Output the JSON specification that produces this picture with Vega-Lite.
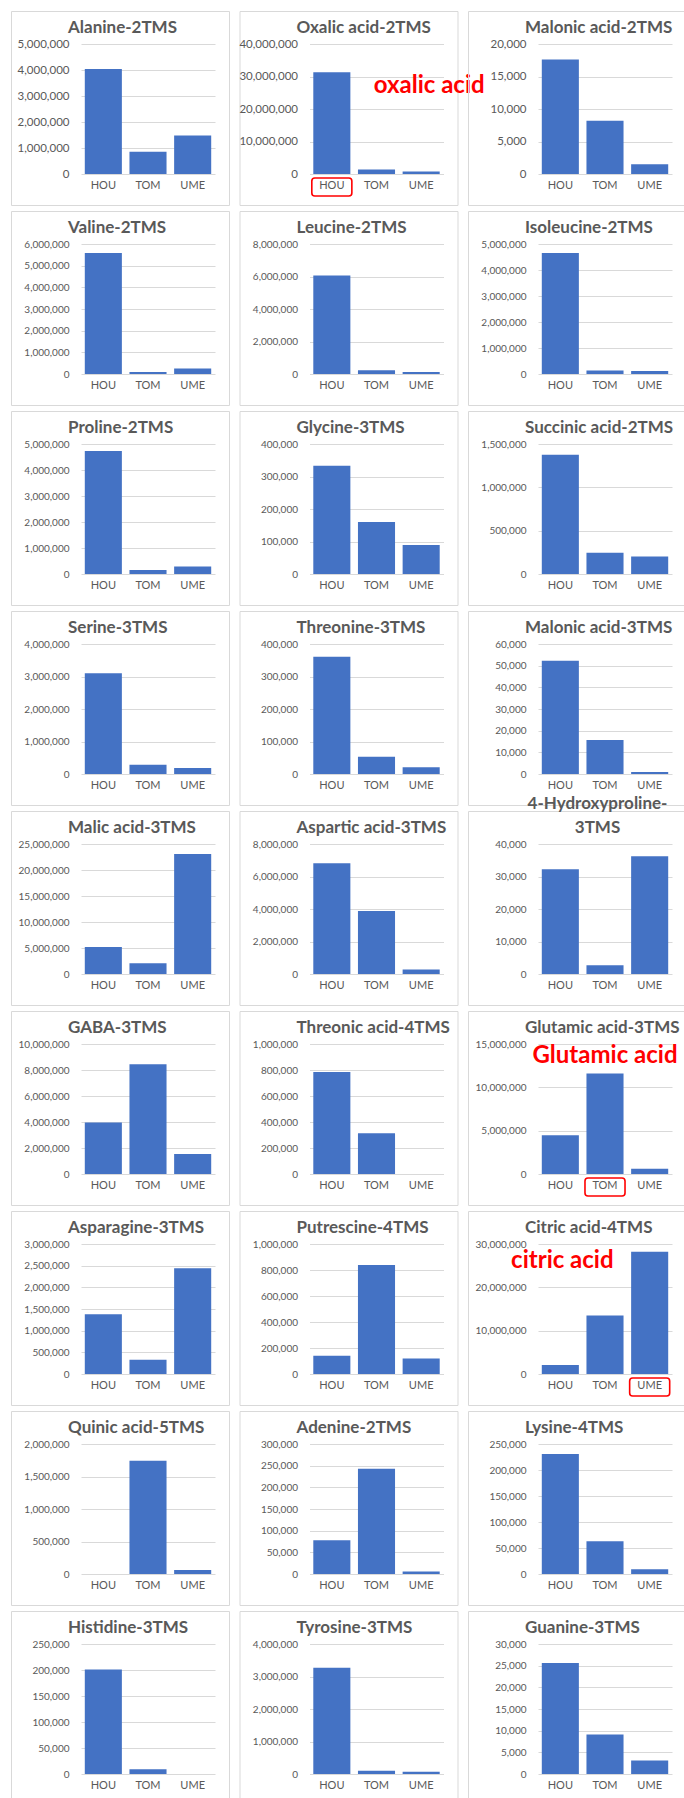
{
  "$schema": "https://vega.github.io/schema/vega-lite/v6.json",
  "padding": {"left": 10, "top": 10, "right": 0, "bottom": 0},
  "background": "white",
  "datasets": {
    "m": [
      {"compound": "Alanine-2TMS", "site": "HOU", "value": 4040000},
      {"compound": "Alanine-2TMS", "site": "TOM", "value": 860000},
      {"compound": "Alanine-2TMS", "site": "UME", "value": 1480000},
      {"compound": "Oxalic acid-2TMS", "site": "HOU", "value": 31300000},
      {"compound": "Oxalic acid-2TMS", "site": "TOM", "value": 1350000},
      {"compound": "Oxalic acid-2TMS", "site": "UME", "value": 740000},
      {"compound": "Malonic acid-2TMS", "site": "HOU", "value": 17600},
      {"compound": "Malonic acid-2TMS", "site": "TOM", "value": 8200},
      {"compound": "Malonic acid-2TMS", "site": "UME", "value": 1490},
      {"compound": "Valine-2TMS", "site": "HOU", "value": 5580000},
      {"compound": "Valine-2TMS", "site": "TOM", "value": 95000},
      {"compound": "Valine-2TMS", "site": "UME", "value": 250000},
      {"compound": "Leucine-2TMS", "site": "HOU", "value": 6060000},
      {"compound": "Leucine-2TMS", "site": "TOM", "value": 230000},
      {"compound": "Leucine-2TMS", "site": "UME", "value": 120000},
      {"compound": "Isoleucine-2TMS", "site": "HOU", "value": 4650000},
      {"compound": "Isoleucine-2TMS", "site": "TOM", "value": 130000},
      {"compound": "Isoleucine-2TMS", "site": "UME", "value": 120000},
      {"compound": "Proline-2TMS", "site": "HOU", "value": 4730000},
      {"compound": "Proline-2TMS", "site": "TOM", "value": 155000},
      {"compound": "Proline-2TMS", "site": "UME", "value": 290000},
      {"compound": "Glycine-3TMS", "site": "HOU", "value": 333000},
      {"compound": "Glycine-3TMS", "site": "TOM", "value": 160000},
      {"compound": "Glycine-3TMS", "site": "UME", "value": 89000},
      {"compound": "Succinic acid-2TMS", "site": "HOU", "value": 1377000},
      {"compound": "Succinic acid-2TMS", "site": "TOM", "value": 244000},
      {"compound": "Succinic acid-2TMS", "site": "UME", "value": 202000},
      {"compound": "Serine-3TMS", "site": "HOU", "value": 3100000},
      {"compound": "Serine-3TMS", "site": "TOM", "value": 285000},
      {"compound": "Serine-3TMS", "site": "UME", "value": 184000},
      {"compound": "Threonine-3TMS", "site": "HOU", "value": 361000},
      {"compound": "Threonine-3TMS", "site": "TOM", "value": 53000},
      {"compound": "Threonine-3TMS", "site": "UME", "value": 20500},
      {"compound": "Malonic acid-3TMS", "site": "HOU", "value": 52300},
      {"compound": "Malonic acid-3TMS", "site": "TOM", "value": 15700},
      {"compound": "Malonic acid-3TMS", "site": "UME", "value": 900},
      {"compound": "Malic acid-3TMS", "site": "HOU", "value": 5170000},
      {"compound": "Malic acid-3TMS", "site": "TOM", "value": 2060000},
      {"compound": "Malic acid-3TMS", "site": "UME", "value": 23100000},
      {"compound": "Aspartic acid-3TMS", "site": "HOU", "value": 6810000},
      {"compound": "Aspartic acid-3TMS", "site": "TOM", "value": 3870000},
      {"compound": "Aspartic acid-3TMS", "site": "UME", "value": 270000},
      {"compound": "4-Hydroxyproline-3TMS", "site": "HOU", "value": 32200},
      {"compound": "4-Hydroxyproline-3TMS", "site": "TOM", "value": 2670},
      {"compound": "4-Hydroxyproline-3TMS", "site": "UME", "value": 36200},
      {"compound": "GABA-3TMS", "site": "HOU", "value": 3970000},
      {"compound": "GABA-3TMS", "site": "TOM", "value": 8440000},
      {"compound": "GABA-3TMS", "site": "UME", "value": 1530000},
      {"compound": "Threonic acid-4TMS", "site": "HOU", "value": 785000},
      {"compound": "Threonic acid-4TMS", "site": "TOM", "value": 314000},
      {"compound": "Threonic acid-4TMS", "site": "UME", "value": 0},
      {"compound": "Glutamic acid-3TMS", "site": "HOU", "value": 4480000},
      {"compound": "Glutamic acid-3TMS", "site": "TOM", "value": 11600000},
      {"compound": "Glutamic acid-3TMS", "site": "UME", "value": 620000},
      {"compound": "Asparagine-3TMS", "site": "HOU", "value": 1380000},
      {"compound": "Asparagine-3TMS", "site": "TOM", "value": 327000},
      {"compound": "Asparagine-3TMS", "site": "UME", "value": 2440000},
      {"compound": "Putrescine-4TMS", "site": "HOU", "value": 140000},
      {"compound": "Putrescine-4TMS", "site": "TOM", "value": 839000},
      {"compound": "Putrescine-4TMS", "site": "UME", "value": 120000},
      {"compound": "Citric acid-4TMS", "site": "HOU", "value": 2100000},
      {"compound": "Citric acid-4TMS", "site": "TOM", "value": 13500000},
      {"compound": "Citric acid-4TMS", "site": "UME", "value": 28200000},
      {"compound": "Quinic acid-5TMS", "site": "HOU", "value": 0},
      {"compound": "Quinic acid-5TMS", "site": "TOM", "value": 1743000},
      {"compound": "Quinic acid-5TMS", "site": "UME", "value": 62000},
      {"compound": "Adenine-2TMS", "site": "HOU", "value": 77700},
      {"compound": "Adenine-2TMS", "site": "TOM", "value": 242800},
      {"compound": "Adenine-2TMS", "site": "UME", "value": 5600},
      {"compound": "Lysine-4TMS", "site": "HOU", "value": 231000},
      {"compound": "Lysine-4TMS", "site": "TOM", "value": 62800},
      {"compound": "Lysine-4TMS", "site": "UME", "value": 9100},
      {"compound": "Histidine-3TMS", "site": "HOU", "value": 200800},
      {"compound": "Histidine-3TMS", "site": "TOM", "value": 8900},
      {"compound": "Histidine-3TMS", "site": "UME", "value": 0},
      {"compound": "Tyrosine-3TMS", "site": "HOU", "value": 3270000},
      {"compound": "Tyrosine-3TMS", "site": "TOM", "value": 100000},
      {"compound": "Tyrosine-3TMS", "site": "UME", "value": 70000},
      {"compound": "Guanine-3TMS", "site": "HOU", "value": 25600},
      {"compound": "Guanine-3TMS", "site": "TOM", "value": 9140},
      {"compound": "Guanine-3TMS", "site": "UME", "value": 3100}
    ],
    "notes": [
      {"compound": "Oxalic acid-2TMS", "site": "HOU", "note": "oxalic acid"},
      {"compound": "Glutamic acid-3TMS", "site": "TOM", "note": "Glutamic acid"},
      {"compound": "Citric acid-4TMS", "site": "UME", "note": "citric acid"}
    ]
  },
  "data": {"name": "m"},
  "columns": 3,
  "spacing": {"row": 6, "column": 10.5},
  "bounds": "flush",
  "concat": [
    {"title": {"text": "Alanine-2TMS"}, "width": 218, "height": 194, "transform": [{"filter": {"field": "compound", "equal": "Alanine-2TMS"}}], "mark": "bar",
     "encoding": {"x": {"field": "site", "type": "nominal", "scale": {"domain": ["HOU", "TOM", "UME"], "range": [70, 204], "paddingInner": 0.17, "paddingOuter": 0.085}, "axis": {"title": null, "offset": -31}},
                  "y": {"field": "value", "type": "quantitative", "scale": {"domain": [0, 5000000], "nice": false, "range": [163, 33]}, "axis": {"title": null, "offset": -70, "format": ",.0f", "labelFontSize": 11.5, "values": [0, 1000000, 2000000, 3000000, 4000000, 5000000]}}}},
    {"title": {"text": "Oxalic acid-2TMS"}, "width": 218, "height": 194,
     "layer": [
       {"transform": [{"filter": {"field": "compound", "equal": "Oxalic acid-2TMS"}}], "mark": "bar",
        "encoding": {"x": {"field": "site", "type": "nominal", "scale": {"domain": ["HOU", "TOM", "UME"], "range": [70, 204], "paddingInner": 0.17, "paddingOuter": 0.085}, "axis": {"title": null, "offset": -31}},
                     "y": {"field": "value", "type": "quantitative", "scale": {"domain": [0, 40000000], "nice": false, "range": [163, 33]}, "axis": {"title": null, "offset": -70, "format": ",.0f", "labelFontSize": 11.5, "values": [0, 10000000, 20000000, 30000000, 40000000]}}}},
       {"data": {"name": "notes"}, "transform": [{"filter": {"field": "compound", "equal": "Oxalic acid-2TMS"}}],
        "mark": {"type": "bar", "fill": "transparent", "stroke": "#FF0000", "strokeWidth": 1.6, "cornerRadius": 3, "width": {"band": 1.08}},
        "encoding": {"x": {"field": "site", "type": "nominal"}, "y": {"datum": -1230000}, "y2": {"datum": -6770000}}},
       {"data": {"name": "notes"}, "transform": [{"filter": {"field": "compound", "equal": "Oxalic acid-2TMS"}}],
        "mark": {"type": "text", "color": "#FF0000", "font": "Lato", "fontWeight": "bold", "fontSize": 24, "baseline": "middle", "align": "center", "dx": 8},
        "encoding": {"text": {"field": "note"}, "x": {"datum": "UME"}, "y": {"datum": 27100000}}}
     ]},
    {"title": {"text": "Malonic acid-2TMS"}, "width": 218, "height": 194, "transform": [{"filter": {"field": "compound", "equal": "Malonic acid-2TMS"}}], "mark": "bar",
     "encoding": {"x": {"field": "site", "type": "nominal", "scale": {"domain": ["HOU", "TOM", "UME"], "range": [70, 204], "paddingInner": 0.17, "paddingOuter": 0.085}, "axis": {"title": null, "offset": -31}},
                  "y": {"field": "value", "type": "quantitative", "scale": {"domain": [0, 20000], "nice": false, "range": [163, 33]}, "axis": {"title": null, "offset": -70, "format": ",.0f", "labelFontSize": 11.5, "values": [0, 5000, 10000, 15000, 20000]}}}},
    {"title": {"text": "Valine-2TMS"}, "width": 218, "height": 194, "transform": [{"filter": {"field": "compound", "equal": "Valine-2TMS"}}], "mark": "bar",
     "encoding": {"x": {"field": "site", "type": "nominal", "scale": {"domain": ["HOU", "TOM", "UME"], "range": [70, 204], "paddingInner": 0.17, "paddingOuter": 0.085}, "axis": {"title": null, "offset": -31}},
                  "y": {"field": "value", "type": "quantitative", "scale": {"domain": [0, 6000000], "nice": false, "range": [163, 33]}, "axis": {"title": null, "offset": -70, "format": ",.0f", "values": [0, 1000000, 2000000, 3000000, 4000000, 5000000, 6000000]}}}},
    {"title": {"text": "Leucine-2TMS"}, "width": 218, "height": 194, "transform": [{"filter": {"field": "compound", "equal": "Leucine-2TMS"}}], "mark": "bar",
     "encoding": {"x": {"field": "site", "type": "nominal", "scale": {"domain": ["HOU", "TOM", "UME"], "range": [70, 204], "paddingInner": 0.17, "paddingOuter": 0.085}, "axis": {"title": null, "offset": -31}},
                  "y": {"field": "value", "type": "quantitative", "scale": {"domain": [0, 8000000], "nice": false, "range": [163, 33]}, "axis": {"title": null, "offset": -70, "format": ",.0f", "values": [0, 2000000, 4000000, 6000000, 8000000]}}}},
    {"title": {"text": "Isoleucine-2TMS"}, "width": 218, "height": 194, "transform": [{"filter": {"field": "compound", "equal": "Isoleucine-2TMS"}}], "mark": "bar",
     "encoding": {"x": {"field": "site", "type": "nominal", "scale": {"domain": ["HOU", "TOM", "UME"], "range": [70, 204], "paddingInner": 0.17, "paddingOuter": 0.085}, "axis": {"title": null, "offset": -31}},
                  "y": {"field": "value", "type": "quantitative", "scale": {"domain": [0, 5000000], "nice": false, "range": [163, 33]}, "axis": {"title": null, "offset": -70, "format": ",.0f", "values": [0, 1000000, 2000000, 3000000, 4000000, 5000000]}}}},
    {"title": {"text": "Proline-2TMS"}, "width": 218, "height": 194, "transform": [{"filter": {"field": "compound", "equal": "Proline-2TMS"}}], "mark": "bar",
     "encoding": {"x": {"field": "site", "type": "nominal", "scale": {"domain": ["HOU", "TOM", "UME"], "range": [70, 204], "paddingInner": 0.17, "paddingOuter": 0.085}, "axis": {"title": null, "offset": -31}},
                  "y": {"field": "value", "type": "quantitative", "scale": {"domain": [0, 5000000], "nice": false, "range": [163, 33]}, "axis": {"title": null, "offset": -70, "format": ",.0f", "values": [0, 1000000, 2000000, 3000000, 4000000, 5000000]}}}},
    {"title": {"text": "Glycine-3TMS"}, "width": 218, "height": 194, "transform": [{"filter": {"field": "compound", "equal": "Glycine-3TMS"}}], "mark": "bar",
     "encoding": {"x": {"field": "site", "type": "nominal", "scale": {"domain": ["HOU", "TOM", "UME"], "range": [70, 204], "paddingInner": 0.17, "paddingOuter": 0.085}, "axis": {"title": null, "offset": -31}},
                  "y": {"field": "value", "type": "quantitative", "scale": {"domain": [0, 400000], "nice": false, "range": [163, 33]}, "axis": {"title": null, "offset": -70, "format": ",.0f", "values": [0, 100000, 200000, 300000, 400000]}}}},
    {"title": {"text": "Succinic acid-2TMS"}, "width": 218, "height": 194, "transform": [{"filter": {"field": "compound", "equal": "Succinic acid-2TMS"}}], "mark": "bar",
     "encoding": {"x": {"field": "site", "type": "nominal", "scale": {"domain": ["HOU", "TOM", "UME"], "range": [70, 204], "paddingInner": 0.17, "paddingOuter": 0.085}, "axis": {"title": null, "offset": -31}},
                  "y": {"field": "value", "type": "quantitative", "scale": {"domain": [0, 1500000], "nice": false, "range": [163, 33]}, "axis": {"title": null, "offset": -70, "format": ",.0f", "values": [0, 500000, 1000000, 1500000]}}}},
    {"title": {"text": "Serine-3TMS"}, "width": 218, "height": 194, "transform": [{"filter": {"field": "compound", "equal": "Serine-3TMS"}}], "mark": "bar",
     "encoding": {"x": {"field": "site", "type": "nominal", "scale": {"domain": ["HOU", "TOM", "UME"], "range": [70, 204], "paddingInner": 0.17, "paddingOuter": 0.085}, "axis": {"title": null, "offset": -31}},
                  "y": {"field": "value", "type": "quantitative", "scale": {"domain": [0, 4000000], "nice": false, "range": [163, 33]}, "axis": {"title": null, "offset": -70, "format": ",.0f", "values": [0, 1000000, 2000000, 3000000, 4000000]}}}},
    {"title": {"text": "Threonine-3TMS"}, "width": 218, "height": 194, "transform": [{"filter": {"field": "compound", "equal": "Threonine-3TMS"}}], "mark": "bar",
     "encoding": {"x": {"field": "site", "type": "nominal", "scale": {"domain": ["HOU", "TOM", "UME"], "range": [70, 204], "paddingInner": 0.17, "paddingOuter": 0.085}, "axis": {"title": null, "offset": -31}},
                  "y": {"field": "value", "type": "quantitative", "scale": {"domain": [0, 400000], "nice": false, "range": [163, 33]}, "axis": {"title": null, "offset": -70, "format": ",.0f", "values": [0, 100000, 200000, 300000, 400000]}}}},
    {"title": {"text": "Malonic acid-3TMS"}, "width": 218, "height": 194, "transform": [{"filter": {"field": "compound", "equal": "Malonic acid-3TMS"}}], "mark": "bar",
     "encoding": {"x": {"field": "site", "type": "nominal", "scale": {"domain": ["HOU", "TOM", "UME"], "range": [70, 204], "paddingInner": 0.17, "paddingOuter": 0.085}, "axis": {"title": null, "offset": -31}},
                  "y": {"field": "value", "type": "quantitative", "scale": {"domain": [0, 60000], "nice": false, "range": [163, 33]}, "axis": {"title": null, "offset": -70, "format": ",.0f", "values": [0, 10000, 20000, 30000, 40000, 50000, 60000]}}}},
    {"title": {"text": "Malic acid-3TMS"}, "width": 218, "height": 194, "transform": [{"filter": {"field": "compound", "equal": "Malic acid-3TMS"}}], "mark": "bar",
     "encoding": {"x": {"field": "site", "type": "nominal", "scale": {"domain": ["HOU", "TOM", "UME"], "range": [70, 204], "paddingInner": 0.17, "paddingOuter": 0.085}, "axis": {"title": null, "offset": -31}},
                  "y": {"field": "value", "type": "quantitative", "scale": {"domain": [0, 25000000], "nice": false, "range": [163, 33]}, "axis": {"title": null, "offset": -70, "format": ",.0f", "values": [0, 5000000, 10000000, 15000000, 20000000, 25000000]}}}},
    {"title": {"text": "Aspartic acid-3TMS"}, "width": 218, "height": 194, "transform": [{"filter": {"field": "compound", "equal": "Aspartic acid-3TMS"}}], "mark": "bar",
     "encoding": {"x": {"field": "site", "type": "nominal", "scale": {"domain": ["HOU", "TOM", "UME"], "range": [70, 204], "paddingInner": 0.17, "paddingOuter": 0.085}, "axis": {"title": null, "offset": -31}},
                  "y": {"field": "value", "type": "quantitative", "scale": {"domain": [0, 8000000], "nice": false, "range": [163, 33]}, "axis": {"title": null, "offset": -70, "format": ",.0f", "values": [0, 2000000, 4000000, 6000000, 8000000]}}}},
    {"title": {"text": ["4-Hydroxyproline-", "3TMS"], "align": "center", "dx": 129.5, "lineHeight": 24}, "width": 218, "height": 194, "transform": [{"filter": {"field": "compound", "equal": "4-Hydroxyproline-3TMS"}}], "mark": "bar",
     "encoding": {"x": {"field": "site", "type": "nominal", "scale": {"domain": ["HOU", "TOM", "UME"], "range": [70, 204], "paddingInner": 0.17, "paddingOuter": 0.085}, "axis": {"title": null, "offset": -31}},
                  "y": {"field": "value", "type": "quantitative", "scale": {"domain": [0, 40000], "nice": false, "range": [163, 33]}, "axis": {"title": null, "offset": -70, "format": ",.0f", "values": [0, 10000, 20000, 30000, 40000]}}}},
    {"title": {"text": "GABA-3TMS"}, "width": 218, "height": 194, "transform": [{"filter": {"field": "compound", "equal": "GABA-3TMS"}}], "mark": "bar",
     "encoding": {"x": {"field": "site", "type": "nominal", "scale": {"domain": ["HOU", "TOM", "UME"], "range": [70, 204], "paddingInner": 0.17, "paddingOuter": 0.085}, "axis": {"title": null, "offset": -31}},
                  "y": {"field": "value", "type": "quantitative", "scale": {"domain": [0, 10000000], "nice": false, "range": [163, 33]}, "axis": {"title": null, "offset": -70, "format": ",.0f", "values": [0, 2000000, 4000000, 6000000, 8000000, 10000000]}}}},
    {"title": {"text": "Threonic acid-4TMS"}, "width": 218, "height": 194, "transform": [{"filter": {"field": "compound", "equal": "Threonic acid-4TMS"}}], "mark": "bar",
     "encoding": {"x": {"field": "site", "type": "nominal", "scale": {"domain": ["HOU", "TOM", "UME"], "range": [70, 204], "paddingInner": 0.17, "paddingOuter": 0.085}, "axis": {"title": null, "offset": -31}},
                  "y": {"field": "value", "type": "quantitative", "scale": {"domain": [0, 1000000], "nice": false, "range": [163, 33]}, "axis": {"title": null, "offset": -70, "format": ",.0f", "values": [0, 200000, 400000, 600000, 800000, 1000000]}}}},
    {"title": {"text": "Glutamic acid-3TMS"}, "width": 218, "height": 194,
     "layer": [
       {"transform": [{"filter": {"field": "compound", "equal": "Glutamic acid-3TMS"}}], "mark": "bar",
        "encoding": {"x": {"field": "site", "type": "nominal", "scale": {"domain": ["HOU", "TOM", "UME"], "range": [70, 204], "paddingInner": 0.17, "paddingOuter": 0.085}, "axis": {"title": null, "offset": -31}},
                     "y": {"field": "value", "type": "quantitative", "scale": {"domain": [0, 15000000], "nice": false, "range": [163, 33]}, "axis": {"title": null, "offset": -70, "format": ",.0f", "values": [0, 5000000, 10000000, 15000000]}}}},
       {"data": {"name": "notes"}, "transform": [{"filter": {"field": "compound", "equal": "Glutamic acid-3TMS"}}],
        "mark": {"type": "bar", "fill": "transparent", "stroke": "#FF0000", "strokeWidth": 1.6, "cornerRadius": 3, "width": {"band": 1.08}},
        "encoding": {"x": {"field": "site", "type": "nominal"}, "y": {"datum": -460000}, "y2": {"datum": -2540000}}},
       {"data": {"name": "notes"}, "transform": [{"filter": {"field": "compound", "equal": "Glutamic acid-3TMS"}}],
        "mark": {"type": "text", "color": "#FF0000", "font": "Lato", "fontWeight": "bold", "fontSize": 24, "baseline": "middle", "align": "center", "dx": 0},
        "encoding": {"text": {"field": "note"}, "x": {"datum": "TOM"}, "y": {"datum": 13650000}}}
     ]},
    {"title": {"text": "Asparagine-3TMS"}, "width": 218, "height": 194, "transform": [{"filter": {"field": "compound", "equal": "Asparagine-3TMS"}}], "mark": "bar",
     "encoding": {"x": {"field": "site", "type": "nominal", "scale": {"domain": ["HOU", "TOM", "UME"], "range": [70, 204], "paddingInner": 0.17, "paddingOuter": 0.085}, "axis": {"title": null, "offset": -31}},
                  "y": {"field": "value", "type": "quantitative", "scale": {"domain": [0, 3000000], "nice": false, "range": [163, 33]}, "axis": {"title": null, "offset": -70, "format": ",.0f", "values": [0, 500000, 1000000, 1500000, 2000000, 2500000, 3000000]}}}},
    {"title": {"text": "Putrescine-4TMS"}, "width": 218, "height": 194, "transform": [{"filter": {"field": "compound", "equal": "Putrescine-4TMS"}}], "mark": "bar",
     "encoding": {"x": {"field": "site", "type": "nominal", "scale": {"domain": ["HOU", "TOM", "UME"], "range": [70, 204], "paddingInner": 0.17, "paddingOuter": 0.085}, "axis": {"title": null, "offset": -31}},
                  "y": {"field": "value", "type": "quantitative", "scale": {"domain": [0, 1000000], "nice": false, "range": [163, 33]}, "axis": {"title": null, "offset": -70, "format": ",.0f", "values": [0, 200000, 400000, 600000, 800000, 1000000]}}}},
    {"title": {"text": "Citric acid-4TMS"}, "width": 218, "height": 194,
     "layer": [
       {"transform": [{"filter": {"field": "compound", "equal": "Citric acid-4TMS"}}], "mark": "bar",
        "encoding": {"x": {"field": "site", "type": "nominal", "scale": {"domain": ["HOU", "TOM", "UME"], "range": [70, 204], "paddingInner": 0.17, "paddingOuter": 0.085}, "axis": {"title": null, "offset": -31}},
                     "y": {"field": "value", "type": "quantitative", "scale": {"domain": [0, 30000000], "nice": false, "range": [163, 33]}, "axis": {"title": null, "offset": -70, "format": ",.0f", "values": [0, 5000000, 10000000, 15000000, 20000000, 25000000, 30000000]}}}},
       {"data": {"name": "notes"}, "transform": [{"filter": {"field": "compound", "equal": "Citric acid-4TMS"}}],
        "mark": {"type": "bar", "fill": "transparent", "stroke": "#FF0000", "strokeWidth": 1.6, "cornerRadius": 3, "width": {"band": 1.08}},
        "encoding": {"x": {"field": "site", "type": "nominal"}, "y": {"datum": -920000}, "y2": {"datum": -5080000}}},
       {"data": {"name": "notes"}, "transform": [{"filter": {"field": "compound", "equal": "Citric acid-4TMS"}}],
        "mark": {"type": "text", "color": "#FF0000", "font": "Lato", "fontWeight": "bold", "fontSize": 24, "baseline": "middle", "align": "center", "dx": 2},
        "encoding": {"text": {"field": "note"}, "x": {"datum": "HOU"}, "y": {"datum": 26000000}}}
     ]},
    {"title": {"text": "Quinic acid-5TMS"}, "width": 218, "height": 194, "transform": [{"filter": {"field": "compound", "equal": "Quinic acid-5TMS"}}], "mark": "bar",
     "encoding": {"x": {"field": "site", "type": "nominal", "scale": {"domain": ["HOU", "TOM", "UME"], "range": [70, 204], "paddingInner": 0.17, "paddingOuter": 0.085}, "axis": {"title": null, "offset": -31}},
                  "y": {"field": "value", "type": "quantitative", "scale": {"domain": [0, 2000000], "nice": false, "range": [163, 33]}, "axis": {"title": null, "offset": -70, "format": ",.0f", "values": [0, 500000, 1000000, 1500000, 2000000]}}}},
    {"title": {"text": "Adenine-2TMS"}, "width": 218, "height": 194, "transform": [{"filter": {"field": "compound", "equal": "Adenine-2TMS"}}], "mark": "bar",
     "encoding": {"x": {"field": "site", "type": "nominal", "scale": {"domain": ["HOU", "TOM", "UME"], "range": [70, 204], "paddingInner": 0.17, "paddingOuter": 0.085}, "axis": {"title": null, "offset": -31}},
                  "y": {"field": "value", "type": "quantitative", "scale": {"domain": [0, 300000], "nice": false, "range": [163, 33]}, "axis": {"title": null, "offset": -70, "format": ",.0f", "values": [0, 50000, 100000, 150000, 200000, 250000, 300000]}}}},
    {"title": {"text": "Lysine-4TMS"}, "width": 218, "height": 194, "transform": [{"filter": {"field": "compound", "equal": "Lysine-4TMS"}}], "mark": "bar",
     "encoding": {"x": {"field": "site", "type": "nominal", "scale": {"domain": ["HOU", "TOM", "UME"], "range": [70, 204], "paddingInner": 0.17, "paddingOuter": 0.085}, "axis": {"title": null, "offset": -31}},
                  "y": {"field": "value", "type": "quantitative", "scale": {"domain": [0, 250000], "nice": false, "range": [163, 33]}, "axis": {"title": null, "offset": -70, "format": ",.0f", "values": [0, 50000, 100000, 150000, 200000, 250000]}}}},
    {"title": {"text": "Histidine-3TMS"}, "width": 218, "height": 194, "transform": [{"filter": {"field": "compound", "equal": "Histidine-3TMS"}}], "mark": "bar",
     "encoding": {"x": {"field": "site", "type": "nominal", "scale": {"domain": ["HOU", "TOM", "UME"], "range": [70, 204], "paddingInner": 0.17, "paddingOuter": 0.085}, "axis": {"title": null, "offset": -31}},
                  "y": {"field": "value", "type": "quantitative", "scale": {"domain": [0, 250000], "nice": false, "range": [163, 33]}, "axis": {"title": null, "offset": -70, "format": ",.0f", "values": [0, 50000, 100000, 150000, 200000, 250000]}}}},
    {"title": {"text": "Tyrosine-3TMS"}, "width": 218, "height": 194, "transform": [{"filter": {"field": "compound", "equal": "Tyrosine-3TMS"}}], "mark": "bar",
     "encoding": {"x": {"field": "site", "type": "nominal", "scale": {"domain": ["HOU", "TOM", "UME"], "range": [70, 204], "paddingInner": 0.17, "paddingOuter": 0.085}, "axis": {"title": null, "offset": -31}},
                  "y": {"field": "value", "type": "quantitative", "scale": {"domain": [0, 4000000], "nice": false, "range": [163, 33]}, "axis": {"title": null, "offset": -70, "format": ",.0f", "values": [0, 1000000, 2000000, 3000000, 4000000]}}}},
    {"title": {"text": "Guanine-3TMS"}, "width": 218, "height": 194, "transform": [{"filter": {"field": "compound", "equal": "Guanine-3TMS"}}], "mark": "bar",
     "encoding": {"x": {"field": "site", "type": "nominal", "scale": {"domain": ["HOU", "TOM", "UME"], "range": [70, 204], "paddingInner": 0.17, "paddingOuter": 0.085}, "axis": {"title": null, "offset": -31}},
                  "y": {"field": "value", "type": "quantitative", "scale": {"domain": [0, 30000], "nice": false, "range": [163, 33]}, "axis": {"title": null, "offset": -70, "format": ",.0f", "values": [0, 5000, 10000, 15000, 20000, 25000, 30000]}}}}
  ],
  "config": {
    "font": "Lato",
    "view": {"stroke": "#D9D9D9", "strokeWidth": 1},
    "bar": {"color": "#4472C4"},
    "title": {"font": "Lato", "fontSize": 17, "fontWeight": "bold", "color": "#595959", "anchor": "start", "frame": "group", "offset": -26, "baseline": "alphabetic", "dx": 57},
    "axis": {"labelFont": "Lato", "labelColor": "#595959", "domain": false, "ticks": false, "tickSize": 0},
    "axisX": {"labelPadding": 5, "labelFontSize": 11, "labelAngle": 0, "grid": false},
    "axisY": {"labelPadding": 12, "labelFontSize": 10, "grid": true, "gridColor": "#D9D9D9", "gridWidth": 1}
  }
}
